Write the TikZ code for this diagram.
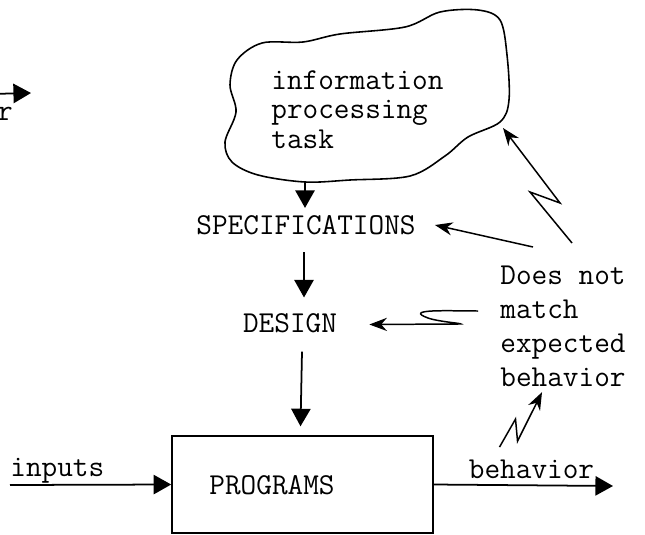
\documentclass[tikz,border=0pt]{standalone}
\usepackage{fontspec}
\usetikzlibrary{arrows.meta}

\tikzset{
	txt/.style={font=\ttfamily\fontsize{17.3}{16.8}\selectfont, inner sep=4pt},
	flow/.style={line width=1pt, -{Triangle[length=10pt,width=11pt]}},
	feedback/.style={line width=0.85pt, -{Stealth[length=10pt,width=7.5pt]}},
	cloud line/.style={line width=0.9pt},
	prog box/.style={draw, line width=1pt, minimum width=148.5pt, minimum height=55pt},
}

\begin{document}
\begin{tikzpicture}[x=0.02cm, y=-0.02cm]
	\useasboundingbox (0,0) rectangle (645,534);
	% Cloud with the task:
	\draw[cloud line] plot[smooth cycle, tension=0.55] coordinates {(262,43) (303,42) (340,34) (405,27) (440,12) (478,10) (500,20) (507,55) (509,100) (500,122) (468,137) (445,156) (410,176) (350,180) (305,182) (258,175) (232,162) (225,142) (236,112) (230,85) (237,60)};
	\node[txt, align=left, anchor=north west, inner sep=0pt] (task) at (271,70) {information\\processing\\task};
	\coordinate (cloudbot) at (305,182);
	\coordinate (cloudtip) at (503,128);
	% Stages:
	\node[txt] (spec) at (306,225) {SPECIFICATIONS};
	\node[txt] (design) at (290,323.5) {DESIGN};
	\node[prog box] (prog) at (302.5,484.5) {};
	\node[txt] (progtxt) at (272,485) {PROGRAMS};
	\draw[flow] (cloudbot) -- (spec.north -| cloudbot);
	\draw[flow] ([shift={(-2,10)}]spec.south) -- ([shift={(14,-9)}]design.north);
	\draw[flow] ([shift={(12,11)}]design.south) -- ([shift={(-2,-9)}]prog.north);
	% Inputs and behavior:
	\coordinate (in) at (10,485);
	\coordinate (out) at (613,486);
	\node[txt, anchor=base west, inner sep=0pt] (inlbl) at (10,476) {inputs};
	\node[txt, anchor=base, inner sep=0pt] (outlbl) at (531.5,478) {behavior};
	\draw[flow] (in) -- (prog.west);
	\draw[flow] (prog.east) -- (out);
	% Fragment at the left edge:
	\coordinate (lt) at (-10,94);
	\coordinate (rt) at (31,93);
	\node[txt, anchor=base, inner sep=0pt] (rlbl) at (5,120) {r};
	\draw[flow] (lt) -- (rt);
	% Feedback:
	\node[txt, font=\ttfamily\fontsize{17.3}{19.3}\selectfont, align=left, anchor=north west, inner sep=0pt] (mismatch) at (500,266) {Does not\\match\\expected\\behavior};
	\draw[feedback] ([shift={(-32,-12)}]outlbl.north) -- ++(16,-28) -- ++(2,22) -- ([shift={(42,5)}]mismatch.south west);
	\draw[feedback] ([shift={(72,-23)}]mismatch.north west) -- ++(-42,-51) -- ++(30,11) -- (cloudtip);
	\draw[feedback] ([shift={(33,-19)}]mismatch.north west) -- ([shift={(12,0)}]spec.east);
	\draw[feedback] ([shift={(-22,45)}]mismatch.north west) to[out=180,in=160,looseness=1.4] ++(-50,7) to[out=-20,in=0] ++(30,6) -- ([shift={(25,1)}]design.east);
\end{tikzpicture}
\end{document}
